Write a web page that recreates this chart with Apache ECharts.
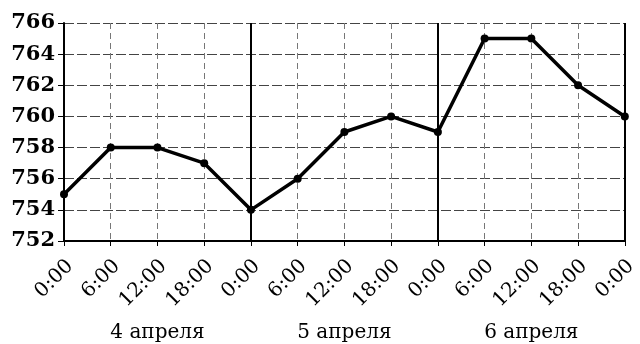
<!DOCTYPE html>
<html>
<head>
<meta charset="utf-8">
<script src="https://cdn.jsdelivr.net/npm/echarts@6/dist/echarts.min.js"></script>
<style>html,body{margin:0;padding:0;background:#fff}#c{width:640px;height:344px}</style>
</head>
<body>
<div id="c"></div>
<script>
var timeLabels = ['0:00','6:00','12:00','18:00','0:00','6:00','12:00','18:00','0:00','6:00','12:00','18:00','0:00'];
var pressure = [755, 758, 758, 757, 754, 756, 759, 760, 759, 765, 765, 762, 760];
var days = ['4 апреля', '5 апреля', '6 апреля'];
var dayBoundaries = [4, 8, 12];
var yMin = 752, yMax = 766, yStep = 2;

var chart = echarts.init(document.getElementById('c'), null, {renderer: 'canvas'});
var pts = pressure.map(function (v, i) { return [i, v]; });
chart.setOption({
  animation: false,
  backgroundColor: '#fff',
  grid: {left: 64, right: 14, top: 23, bottom: 103},
  xAxis: [{
    type: 'value', min: 0, max: timeLabels.length - 1, interval: 1,
    axisLine: {show: true, lineStyle: {color: '#000', width: 2}},
    axisTick: {show: true, length: 5, lineStyle: {color: '#000', width: 1}},
    axisLabel: {
      rotate: 45, margin: 16, color: '#000', verticalAlign: 'top', lineHeight: 17,
      fontFamily: 'DejaVu Serif', fontSize: 20,
      formatter: function (v) { return timeLabels[v]; }
    },
    splitLine: {show: true, lineStyle: {color: '#777', width: 1, type: [6, 4]}}
  }, {
    type: 'category', data: days, position: 'bottom', offset: 78,
    boundaryGap: true,
    axisLine: {show: false}, axisTick: {show: false}, splitLine: {show: false},
    axisLabel: {color: '#000', fontFamily: 'DejaVu Serif', fontSize: 20, margin: 4}
  }],
  yAxis: {
    type: 'value', min: yMin, max: yMax, interval: yStep,
    axisLine: {show: true, lineStyle: {color: '#000', width: 2}},
    axisTick: {show: true, length: 6, lineStyle: {color: '#000', width: 1}},
    axisLabel: {color: '#000', fontFamily: 'DejaVu Serif', fontWeight: 'bold', fontSize: 21, margin: 9},
    splitLine: {show: true, lineStyle: {color: '#444', width: 1, type: [10, 3]}}
  },
  series: [{
    type: 'line', data: pts, xAxisIndex: 0,
    lineStyle: {color: '#000', width: 3.5},
    itemStyle: {color: '#000'},
    symbol: 'circle', symbolSize: 8,
    z: 5,
    markLine: {
      silent: true, symbol: 'none', label: {show: false},
      lineStyle: {color: '#000', width: 2, type: 'solid'},
      data: dayBoundaries.map(function (d) { return {xAxis: d}; })
    }
  }]
});
</script>
</body>
</html>
